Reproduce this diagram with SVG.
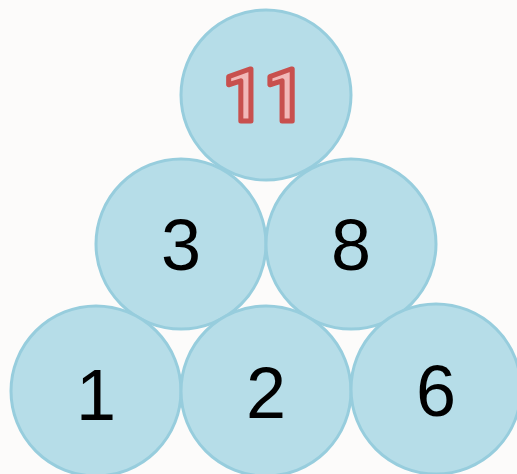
<svg xmlns="http://www.w3.org/2000/svg" width="517" height="474" viewBox="0 0 517 474">
<style>
.c{fill:#b6dde8;stroke:#97cddd;stroke-width:3}
.t{font-family:"Liberation Sans",Arial,sans-serif;font-size:72px;fill:#000;text-anchor:middle}
.r{font-family:Roboto,"Liberation Sans",sans-serif;font-size:72px;font-weight:bold;fill:#f2b8b8;stroke:#c8504e;stroke-width:5;stroke-linejoin:round;text-anchor:middle}
</style>
<rect width="517" height="474" fill="#fcfbfa"/>
<g id="connectors"></g>
<g id="n11"><circle class="c" cx="266" cy="95" r="85"/><text class="r" x="264" y="121">11</text></g>
<g id="n3"><circle class="c" cx="181" cy="244" r="85"/><text class="t" x="181" y="270">3</text></g>
<g id="n8"><circle class="c" cx="351" cy="244" r="85"/><text class="t" x="351" y="270">8</text></g>
<g id="n1"><circle class="c" cx="96" cy="391" r="85"/><text class="t" x="96" y="420">1</text></g>
<g id="n2"><circle class="c" cx="266" cy="391" r="85"/><text class="t" x="266" y="418">2</text></g>
<g id="n6"><circle class="c" cx="436" cy="389" r="85"/><text class="t" x="436" y="416">6</text></g>
</svg>
